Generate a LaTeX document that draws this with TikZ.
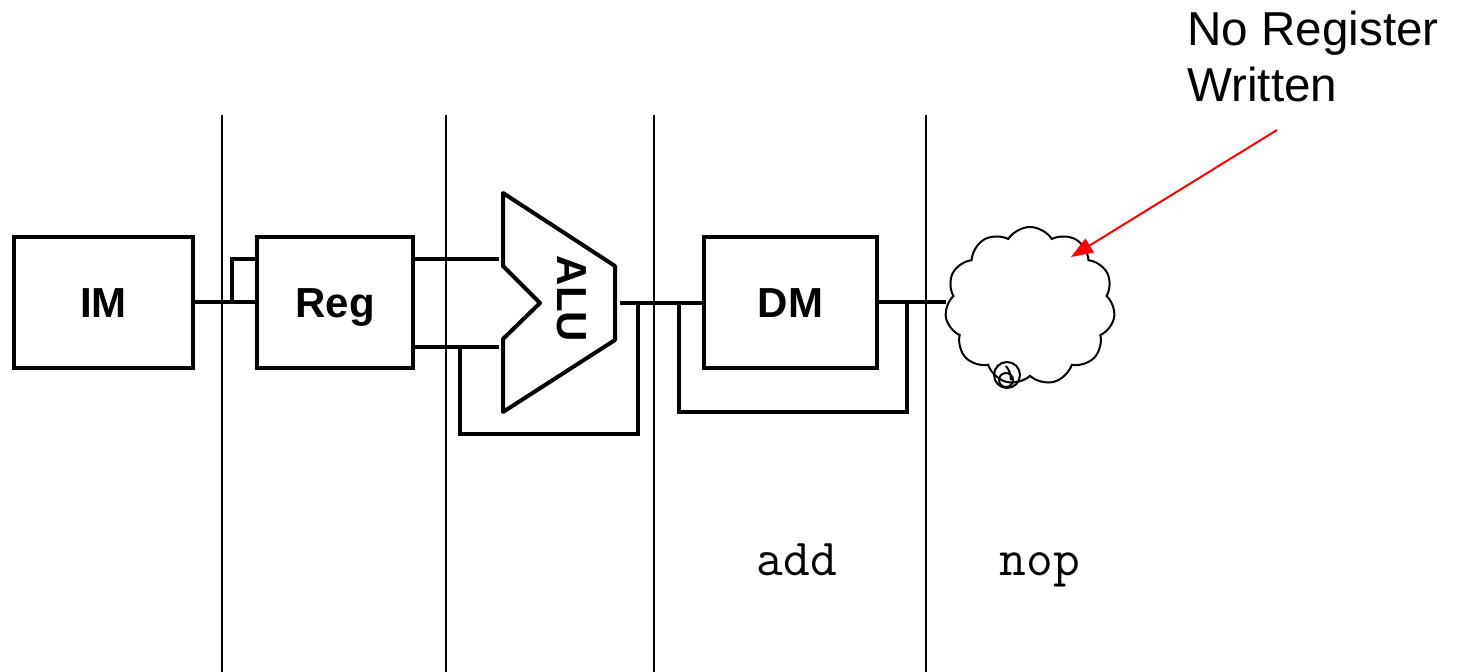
\documentclass[tikz,border=0pt]{standalone}
\usepackage{fontspec}
\setmainfont{Liberation Sans}
\usetikzlibrary{arrows.meta,shapes.symbols}
\begin{document}
\begin{tikzpicture}[x=0.5pt,y=-0.5pt,
  stage/.style={line width=0.75pt},
  unit/.style={draw,line width=2pt,minimum height=65.5pt,inner sep=0pt,
               text height=15pt,text depth=0pt,
               font=\fontsize{21pt}{25pt}\selectfont\bfseries},
  wire/.style={line width=2pt},
  instr/.style={anchor=base,inner sep=0pt,font=\fontsize{26pt}{30pt}\selectfont\ttfamily},
  note/.style={red,line width=1pt,-{Triangle[length=11pt,width=8pt]}}]
\useasboundingbox (0,0) rectangle (1459,672);

% pipeline stage separators
\foreach \x in {222,446,654,926}
  \draw[stage] (\x,115) -- (\x,672);

% functional units
\node[unit,minimum width=89.5pt] (IM)  at (103.5,302.5) {IM};
\node[unit,minimum width=78pt]   (Reg) at (335,302.5)   {Reg};
\node[unit,minimum width=86.5pt] (DM)  at (790.5,302.5) {DM};

% ALU outline
\coordinate (aTL) at (503,193);
\coordinate (aTR) at (615,266);
\coordinate (aBR) at (615,340);
\coordinate (aBL) at (503,412);
\coordinate (aLo) at (503,339);
\coordinate (aN)  at (540,303);
\coordinate (aUp) at (503,266);
\draw[wire,line join=round] (aTL) -- (aTR) -- (aBR) -- (aBL) -- (aLo) -- (aN) -- (aUp) -- cycle;
\node[rotate=-90,text height=15pt,text depth=0pt,inner sep=0pt,
      font=\fontsize{21pt}{25pt}\selectfont\bfseries] (ALU) at (572,299) {ALU};
\coordinate (aInA) at (499,259);
\coordinate (aInB) at (499,347);
\coordinate (aOut) at (620,303);

% IM -> Reg
\coordinate (j1) at (232,302.5);
\draw[wire] (IM.east) -- (Reg.west);
\draw[wire] (j1) |- (Reg.west |- aInA);

% Reg -> ALU
\draw[wire] (Reg.east |- aInA) -- (aInA);
\draw[wire] (Reg.east |- aInB) -- (aInB);

% ALU -> DM, with bypass loop
\coordinate (fbA) at (460,347);
\coordinate (fbB) at (637.5,434);
\draw[wire] (aOut) -- (DM.west |- aOut);
\draw[wire] (fbA) |- (fbB) -- (fbB |- aOut);

% DM bypass loop
\coordinate (dbA) at (679,302.5);
\coordinate (dbB) at (907,412);
\draw[wire] (dbA) |- (dbB) -- (dbB |- dbA);

% write-back stage: nothing written
\node[cloud,draw,line width=1pt,cloud puffs=11,cloud puff arc=115,aspect=1.07,
      minimum width=85pt,minimum height=79pt,inner sep=0pt] (WB) at (1030,306) {};
\draw[wire] (DM.east) -- (DM.east -| WB.west);
\draw[line width=1pt] (1007,375) circle (13);
\draw[line width=1pt] (1006,380) circle (7);
\draw[line width=1pt] (1006,366) .. controls (1010,372) .. (1011,380);

% instruction labels
\node[instr] (add) at (797,575) {add};
\node[instr] (nop) at (1040,575) {nop};

% annotation
\node[anchor=north west,align=left,inner sep=0pt,
      font=\fontsize{23.8pt}{28pt}\selectfont] (lbl) at (1187,11) {No Register\\Written};
\coordinate (from) at (1277,130);
\coordinate (to) at (1071,257);
\draw[note] (from) -- (to);
\end{tikzpicture}
\end{document}
